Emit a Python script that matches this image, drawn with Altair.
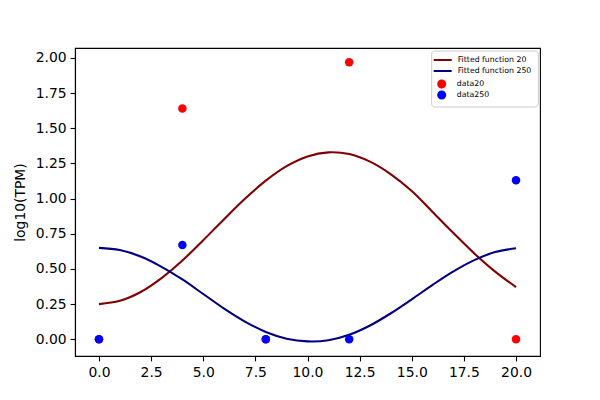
import altair as alt
import pandas as pd

# ---- data ----
x_fit = [0, 1, 2, 3, 4, 5, 6, 7, 8, 9, 10, 11, 12, 13, 14, 15, 16, 17, 18, 19, 20]
fit20 = [0.250, 0.273, 0.336, 0.435, 0.560, 0.704, 0.854, 0.999, 1.128, 1.231, 1.300,
         1.329, 1.317, 1.263, 1.173, 1.054, 0.905, 0.755, 0.610, 0.481, 0.371]
fit250 = [0.650, 0.634, 0.588, 0.515, 0.425, 0.322, 0.218, 0.126, 0.052, 0.004, -0.015,
          -0.007, 0.032, 0.098, 0.185, 0.284, 0.387, 0.483, 0.563, 0.620, 0.647]
time_points = [0, 4, 8, 12, 20]
data20 = [0.0, 1.64, 0.0, 1.97, 0.0]
data250 = [0.0, 0.67, 0.0, 0.0, 1.13]

line_names = ["Fitted function 20", "Fitted function 250"]
point_names = ["data20", "data250"]
x_ticks = [0, 2.5, 5, 7.5, 10, 12.5, 15, 17.5, 20]
y_ticks = [0, 0.25, 0.5, 0.75, 1.0, 1.25, 1.5, 1.75, 2.0]

lines_df = pd.DataFrame({
    "x": x_fit + x_fit,
    "y": fit20 + fit250,
    "series": [line_names[0]] * len(x_fit) + [line_names[1]] * len(x_fit),
})
points_df = pd.DataFrame({
    "x": time_points + time_points,
    "y": data20 + data250,
    "series": [point_names[0]] * len(time_points) + [point_names[1]] * len(time_points),
    "order": list(range(2 * len(time_points))),
})

FONT = "DejaVu Sans"

xscale = alt.Scale(domain=[-1.15, 21.15], nice=False, zero=False)
yscale = alt.Scale(domain=[-0.119, 2.071], nice=False, zero=False)


def xaxis():
    return alt.Axis(values=x_ticks, format=".1f", title=None, labelOverlap=False,
                    labelPadding=5)


def yaxis():
    return alt.Axis(values=y_ticks, format=".2f", title="log10(TPM)",
                    labelOverlap=False, tickCount=9, titlePadding=8)


line_path = "M-1.8,0L1.8,0"
circle_path = "M0.9,0A0.9,0.9,0,1,1,-0.9,0A0.9,0.9,0,1,1,0.9,0Z"

box = alt.Chart(pd.DataFrame({"a": [0]})).mark_rect(
    fill="white", stroke="#cccccc", strokeWidth=1, cornerRadius=3
).encode(
    x=alt.value(356.7), x2=alt.value(463.3), y=alt.value(3), y2=alt.value(59)
)

lines = alt.Chart(lines_df).mark_line(strokeWidth=2.08, interpolate="catmull-rom").encode(
    x=alt.X("x:Q", scale=xscale, axis=xaxis()),
    y=alt.Y("y:Q", scale=yscale, axis=yaxis()),
    stroke=alt.Stroke(
        "series:N",
        scale=alt.Scale(domain=line_names, range=["#800000", "#000080"]),
        legend=alt.Legend(
            title=None, orient="none", legendX=361.7, legendY=6,
            symbolType=line_path, symbolSize=100, symbolStrokeWidth=2,
            rowPadding=1, labelOffset=9, padding=0,
            labelFont=FONT, labelFontSize=7.8, labelColor="black",
        ),
    ),
)

points = alt.Chart(points_df).mark_circle(size=72, opacity=1).encode(
    x=alt.X("x:Q", scale=xscale, axis=xaxis()),
    y=alt.Y("y:Q", scale=yscale, axis=yaxis()),
    fill=alt.Fill(
        "series:N",
        scale=alt.Scale(domain=point_names, range=["#ff0000", "#0000ff"]),
        legend=alt.Legend(
            title=None, orient="none", legendX=361.7, legendY=31,
            symbolType=circle_path, symbolSize=100, symbolStrokeWidth=0,
            rowPadding=1, labelOffset=10, padding=0,
            labelFont=FONT, labelFontSize=7.8, labelColor="black",
        ),
    ),
    order="order:Q",
)

chart = alt.layer(box, lines, points).resolve_scale(
    stroke="independent", fill="independent"
).properties(
    width=465, height=308,
    background="white",
    autosize=alt.AutoSizeParams(type="none"),
    padding={"left": 67, "top": 40, "right": 52, "bottom": 36},
).configure_view(
    stroke="black", strokeWidth=1.1
).configure_axis(
    grid=False,
    domainColor="black", domainWidth=1.1,
    tickColor="black", tickWidth=1.1, tickSize=4.9,
    labelColor="black", labelFont=FONT, labelFontSize=13.9, labelPadding=4,
    titleColor="black", titleFont=FONT, titleFontSize=13.9,
    titleFontWeight="normal",
)

chart.save("out.html", embed_options={"renderer": "svg", "actions": False})
